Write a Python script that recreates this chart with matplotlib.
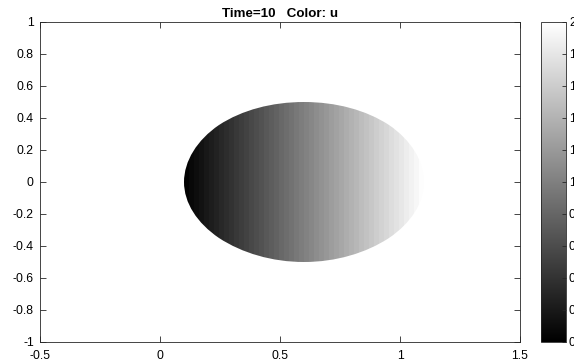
import numpy as np
import matplotlib
matplotlib.use("Agg")
import matplotlib.pyplot as plt
from matplotlib.patches import Ellipse

# Data
center_x, center_y = 0.6, 0.0
radius_x, radius_y = 0.5, 0.5
u_min, u_max = 0.0, 2.0
n_strips = 48
xticks = [-0.5, 0, 0.5, 1, 1.5]
xticklabels = ["-0.5", "0", "0.5", "1", "1.5"]
yticks = [-1, -0.8, -0.6, -0.4, -0.2, 0, 0.2, 0.4, 0.6, 0.8, 1]
yticklabels = ["-1", "-0.8", "-0.6", "-0.4", "-0.2", "0", "0.2", "0.4", "0.6", "0.8", "1"]
cbar_ticks = [0, 0.2, 0.4, 0.6, 0.8, 1, 1.2, 1.4, 1.6, 1.8, 2]
cbar_labels = ["0", "0.2", "0.4", "0.6", "0.8", "1", "1.2", "1.4", "1.6", "1.8", "2"]
title = "Time=10   Color: u"

plt.rcParams['font.family'] = ['Liberation Sans', 'DejaVu Sans']
axcol = '#262626'

fig = plt.figure(figsize=(5.74, 3.64), dpi=100)
ax = fig.add_axes([40/574, 1-341.5/364, 480/574, 319.5/364])
cax = fig.add_axes([541/574, 1-341.5/364, 24.5/574, 319.5/364])

x0 = center_x - radius_x
x1 = center_x + radius_x
xe = np.linspace(x0, x1, n_strips + 1)
ye = np.array([center_y - radius_y, center_y + radius_y])
xc = 0.5 * (xe[:-1] + xe[1:])
uvals = u_min + (u_max - u_min) * (xc - x0) / (x1 - x0)
C = np.tile(uvals, (1, 1))
mesh = ax.pcolormesh(xe, ye, C, cmap='gray', vmin=u_min, vmax=u_max,
                     shading='flat', antialiased=False)
ell = Ellipse((center_x, center_y), 2*radius_x, 2*radius_y,
              transform=ax.transData, facecolor='none', edgecolor='none')
ax.add_patch(ell)
mesh.set_clip_path(ell)

ax.set_xlim(-0.5, 1.5)
ax.set_ylim(-1, 1)
ax.set_xticks(xticks)
ax.set_xticklabels(xticklabels)
ax.set_yticks(yticks)
ax.set_yticklabels(yticklabels)
ax.tick_params(direction='in', length=4, width=0.6, colors=axcol, labelsize=8.8,
               top=True, right=True, labelcolor='black')
ax.tick_params(axis='x', pad=6)
ax.tick_params(axis='y', pad=4.5)
for s in ax.spines.values():
    s.set_color(axcol)
    s.set_linewidth(0.6)
ax.set_title(title, fontsize=9.6, fontweight='bold', pad=3.5)

cb = fig.colorbar(mesh, cax=cax, ticks=cbar_ticks)
cb.ax.set_yticklabels(cbar_labels)
cb.ax.tick_params(direction='in', length=3, width=0.6, colors=axcol, labelsize=8.8,
                  labelcolor='black', pad=2.5)
cb.outline.set_edgecolor(axcol)
cb.outline.set_linewidth(0.6)

fig.savefig("out.png", dpi=100)
